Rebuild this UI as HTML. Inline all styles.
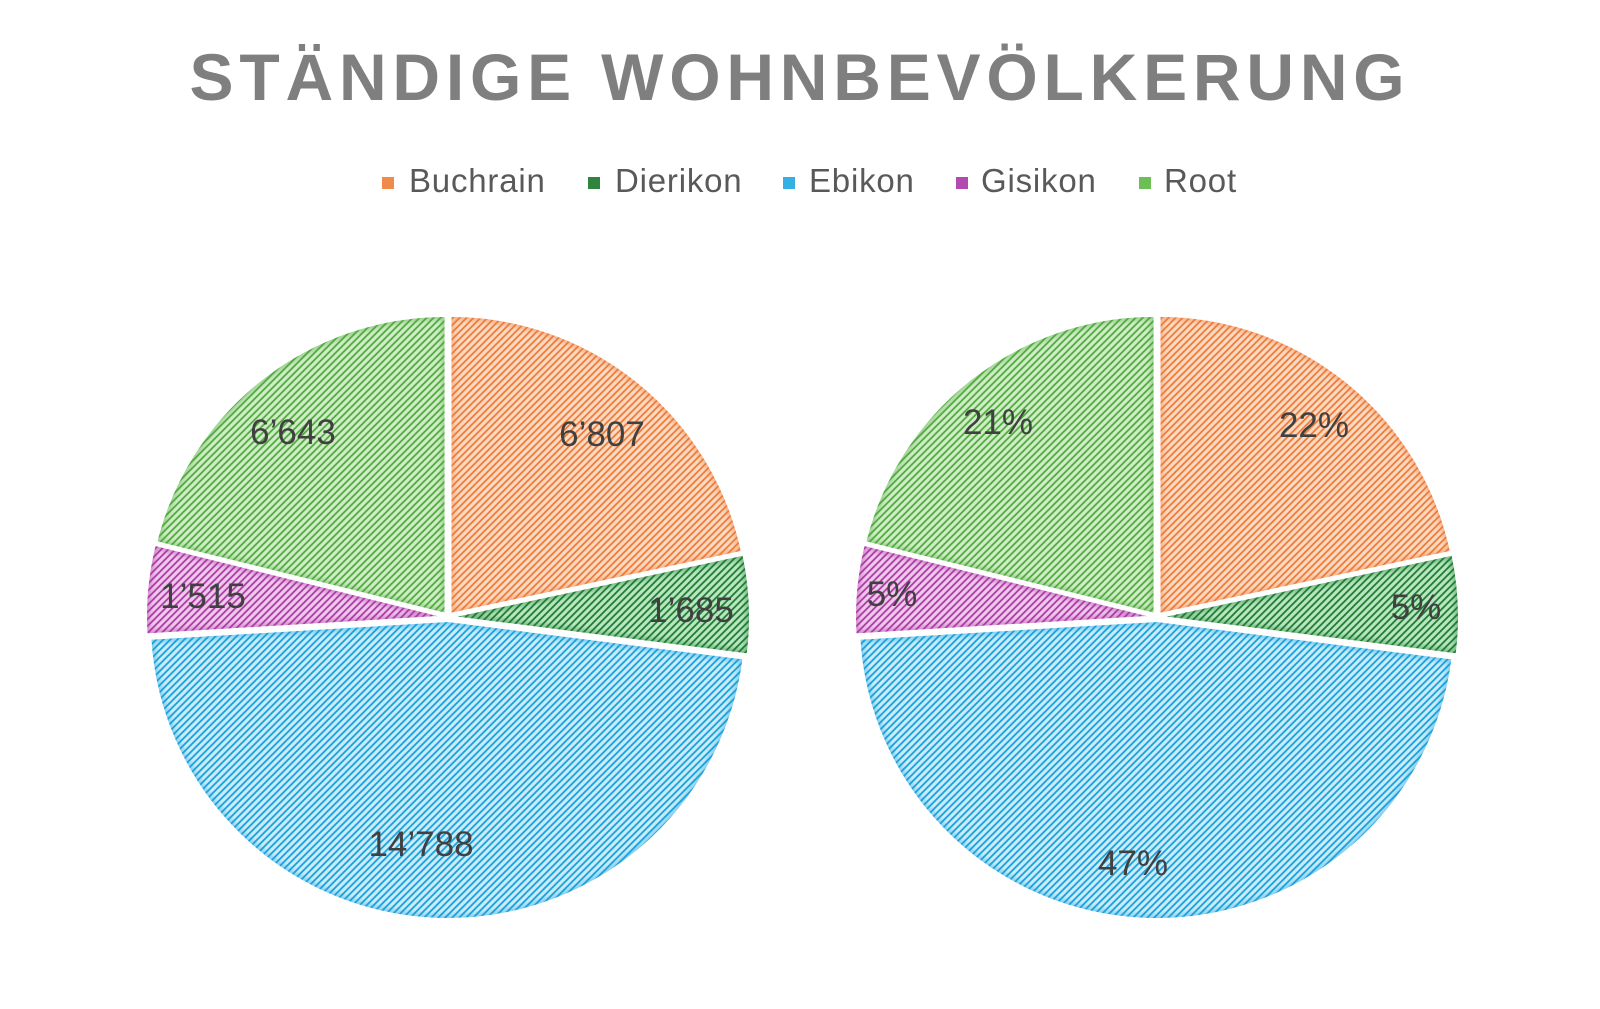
<!DOCTYPE html>
<html>
<head>
<meta charset="utf-8">
<style>
  html,body{margin:0;padding:0;background:#fff;}
  svg{display:block;}
</style>
</head>
<body>
<svg width="1600" height="1009" viewBox="0 0 1600 1009" xmlns="http://www.w3.org/2000/svg">
  <defs>
    <pattern id="pOr" patternUnits="userSpaceOnUse" width="7" height="7">
      <rect width="7" height="7" fill="#FBDAC4"/>
      <path d="M-1,8 L8,-1 M-2,2 L2,-2 M5,9 L9,5" stroke="#EE7B36" stroke-width="1.8"/>
    </pattern>
    <pattern id="pDg" patternUnits="userSpaceOnUse" width="7" height="7">
      <rect width="7" height="7" fill="#B8E6C0"/>
      <path d="M-1,8 L8,-1 M-2,2 L2,-2 M5,9 L9,5" stroke="#1F7A32" stroke-width="1.8"/>
    </pattern>
    <pattern id="pBl" patternUnits="userSpaceOnUse" width="7" height="7">
      <rect width="7" height="7" fill="#C8ECFA"/>
      <path d="M-1,8 L8,-1 M-2,2 L2,-2 M5,9 L9,5" stroke="#199FDB" stroke-width="1.8"/>
    </pattern>
    <pattern id="pPu" patternUnits="userSpaceOnUse" width="7" height="7">
      <rect width="7" height="7" fill="#EFC9EC"/>
      <path d="M-1,8 L8,-1 M-2,2 L2,-2 M5,9 L9,5" stroke="#AC3AA4" stroke-width="1.8"/>
    </pattern>
    <pattern id="pLg" patternUnits="userSpaceOnUse" width="7" height="7">
      <rect width="7" height="7" fill="#D1EDC8"/>
      <path d="M-1,8 L8,-1 M-2,2 L2,-2 M5,9 L9,5" stroke="#4EAA3C" stroke-width="1.8"/>
    </pattern>

    <path id="sB" d="M0,0 L0,-298 A298,298 0 0,1 291.43,-62.21 Z"/>
    <path id="sD" d="M0,0 L291.43,-62.21 A298,298 0 0,1 295.62,37.56 Z"/>
    <path id="sE" d="M0,0 L295.62,37.56 A298,298 0 0,1 -297.47,17.78 Z"/>
    <path id="sG" d="M0,0 L-297.47,17.78 A298,298 0 0,1 -289.24,-71.74 Z"/>
    <path id="sR" d="M0,0 L-289.24,-71.74 A298,298 0 0,1 0,-298 Z"/>

    <clipPath id="cB"><use href="#sB"/></clipPath>
    <clipPath id="cD"><use href="#sD"/></clipPath>
    <clipPath id="cE"><use href="#sE"/></clipPath>
    <clipPath id="cG"><use href="#sG"/></clipPath>
    <clipPath id="cR"><use href="#sR"/></clipPath>

    <filter id="blur" x="-10%" y="-10%" width="120%" height="120%">
      <feGaussianBlur stdDeviation="2"/>
    </filter>

    <g id="pie">
      <g transform="translate(2.52,-3.11)">
        <use href="#sB" fill="url(#pOr)"/>
        <g clip-path="url(#cB)"><use href="#sB" fill="none" stroke="#EE7B36" stroke-opacity="0.4" stroke-width="8" filter="url(#blur)"/></g>
        <use href="#sB" fill="none" stroke="#fff" stroke-width="2"/>
      </g>
      <g transform="translate(4.00,-0.17)">
        <use href="#sD" fill="url(#pDg)"/>
        <g clip-path="url(#cD)"><use href="#sD" fill="none" stroke="#1F7A32" stroke-opacity="0.4" stroke-width="8" filter="url(#blur)"/></g>
        <use href="#sD" fill="none" stroke="#fff" stroke-width="2"/>
      </g>
      <g transform="translate(-0.13,4.00)">
        <use href="#sE" fill="url(#pBl)"/>
        <g clip-path="url(#cE)"><use href="#sE" fill="none" stroke="#199FDB" stroke-opacity="0.4" stroke-width="8" filter="url(#blur)"/></g>
        <use href="#sE" fill="none" stroke="#fff" stroke-width="2"/>
      </g>
      <g transform="translate(-3.98,-0.37)">
        <use href="#sG" fill="url(#pPu)"/>
        <g clip-path="url(#cG)"><use href="#sG" fill="none" stroke="#AC3AA4" stroke-opacity="0.4" stroke-width="8" filter="url(#blur)"/></g>
        <use href="#sG" fill="none" stroke="#fff" stroke-width="2"/>
      </g>
      <g transform="translate(-2.46,-3.15)">
        <use href="#sR" fill="url(#pLg)"/>
        <g clip-path="url(#cR)"><use href="#sR" fill="none" stroke="#4EAA3C" stroke-opacity="0.4" stroke-width="8" filter="url(#blur)"/></g>
        <use href="#sR" fill="none" stroke="#fff" stroke-width="2"/>
      </g>
    </g>
  </defs>

  <!-- Title -->
  <text x="800" y="100" text-anchor="middle" font-family="'Liberation Sans', Arial, sans-serif" font-weight="bold" font-size="66" letter-spacing="5.8" fill="#7F7F7F">STÄNDIGE WOHNBEVÖLKERUNG</text>

  <!-- Legend -->
  <g font-family="'Liberation Sans', Arial, sans-serif" font-size="33" letter-spacing="0.8" fill="#595959">
    <rect x="382" y="177" width="12" height="12" fill="#F08A4B"/>
    <text x="409" y="192">Buchrain</text>
    <rect x="588" y="177" width="12" height="12" fill="#2F8540"/>
    <text x="615" y="192">Dierikon</text>
    <rect x="783" y="177" width="12" height="12" fill="#35B0E3"/>
    <text x="809" y="192">Ebikon</text>
    <rect x="956" y="177" width="12" height="12" fill="#B34AB0"/>
    <text x="981" y="192">Gisikon</text>
    <rect x="1139" y="177" width="12" height="12" fill="#6CBF55"/>
    <text x="1164" y="192">Root</text>
  </g>

  <!-- Pies -->
  <use href="#pie" transform="translate(448,617)"/>
  <use href="#pie" transform="translate(1157,617)"/>

  <!-- Data labels -->
  <g font-family="'Liberation Sans', Arial, sans-serif" font-size="35" fill="#404040" text-anchor="middle">
    <text x="602" y="446">6’807</text>
    <text x="691" y="622">1’685</text>
    <text x="421" y="856">14’788</text>
    <text x="203" y="608">1’515</text>
    <text x="293" y="444">6’643</text>

    <text x="1314" y="437">22%</text>
    <text x="1416" y="619">5%</text>
    <text x="1133" y="875">47%</text>
    <text x="892" y="606">5%</text>
    <text x="998" y="434">21%</text>
  </g>
</svg>
</body>
</html>
